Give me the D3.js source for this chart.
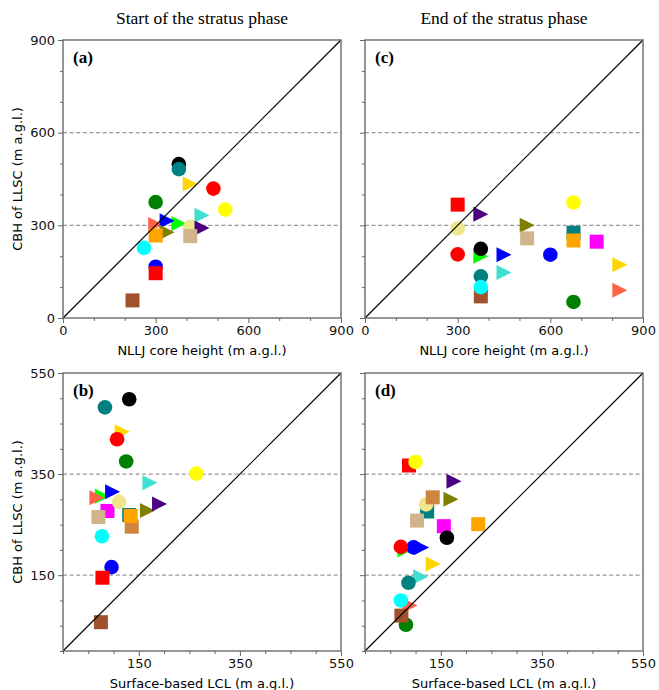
<!DOCTYPE html>
<html><head><meta charset="utf-8">
<script src="https://cdn.jsdelivr.net/npm/d3@7"></script>
<style>body{margin:0;background:#fff}</style>
</head><body>
<svg id="chart" width="659" height="690"></svg>
<script>
// ---- data (drawing order) ----
const caseColors = ["magenta","teal","lime","gold","blue","green","black","turquoise","teal","tomato","sienna","blue","khaki","olive","indigo","tan","peru","orange","red","yellow","red","cyan"];
const caseShapes = ["square","square","triangle","triangle","circle","circle","circle","triangle","circle","triangle","square","triangle","circle","triangle","triangle","square","square","square","square","circle","circle","circle"];
const nlljStart = [null,null,375,412,300,300,375,450,375,300,225,337,412,337,450,412,null,300,300,525,487,262];
const cbhStart  = [277,269,306,434,166,375,498,333,482,303,57,315,295,278,291,265,246,267,145,351,419,227];
const lclStart  = [88,131,78,117,96,125,131,172,83,67,75,98,111,167,191,70,136,134,78,264,107,77];
const nlljEnd   = [750,675,375,825,600,675,375,450,375,825,375,450,300,525,375,525,null,675,300,675,300,375];
const cbhEnd    = [247,276,200,172,205,52,224,147,135,90,70,205,290,300,336,258,304,251,367,374,206,100];
const lclEnd    = [156,123,79,135,96,81,162,110,86,89,72,112,121,170,176,103,134,224,87,100,71,71];

const topTicks = [0,300,600,900];
const bottomTicks = [150,350,550];
const topDashed = [300,600];
const bottomDashed = [150,350];
const titles = ["Start of the stratus phase","End of the stratus phase"];

const svg = d3.select("#chart");
const W = 278, H = 278;

const triRight = {draw(ctx, size){ const h = Math.sqrt(size)/2; ctx.moveTo(h,0); ctx.lineTo(-h,-h); ctx.lineTo(-h,h); ctx.closePath(); }};
const symbolFor = s => s==="circle" ? d3.symbol(d3.symbolCircle, Math.PI*7.3*7.3)
                    : s==="square" ? d3.symbol(d3.symbolSquare, 14*14)
                    : d3.symbol(triRight, 15*15);

const panels = [
  {id:"a", x:63,  y:40,  max:900, major:topTicks, minorStep:100, dashed:topDashed, xs:nlljStart, ys:cbhStart, yLab:true, xTitle:"NLLJ core height (m a.g.l.)"},
  {id:"c", x:365, y:40,  max:900, major:topTicks, minorStep:100, dashed:topDashed, xs:nlljEnd,   ys:cbhEnd,   yLab:false, xTitle:"NLLJ core height (m a.g.l.)"},
  {id:"b", x:63,  y:373, max:550, major:bottomTicks, minorStep:50, dashed:bottomDashed, xs:lclStart, ys:cbhStart, yLab:true, xTitle:"Surface-based LCL (m a.g.l.)"},
  {id:"d", x:365, y:373, max:550, major:bottomTicks, minorStep:50, dashed:bottomDashed, xs:lclEnd,   ys:cbhEnd,   yLab:false, xTitle:"Surface-based LCL (m a.g.l.)"}
];

const defs = svg.append("defs");
panels.forEach(p => {
  defs.append("clipPath").attr("id","clip"+p.id).append("rect").attr("width",W).attr("height",H);
  const g = svg.append("g").attr("transform",`translate(${p.x},${p.y})`);
  const xs = d3.scaleLinear().domain([0,p.max]).range([0,W]);
  const ys = d3.scaleLinear().domain([0,p.max]).range([H,0]);
  const minor = d3.range(0,p.max+0.1,p.minorStep).filter(v=>!p.major.includes(v));

  g.selectAll(".dash").data(p.dashed).join("line")
    .attr("x1",0).attr("x2",W).attr("y1",d=>ys(d)).attr("y2",d=>ys(d))
    .attr("stroke","#999").attr("stroke-width",1.2).attr("stroke-dasharray","4,2.6");

  const pts = p.xs.map((v,i)=>({x:v,y:p.ys[i],c:caseColors[i],s:caseShapes[i]})).filter(d=>d.x!=null&&d.y!=null);
  g.append("g").attr("clip-path",`url(#clip${p.id})`).selectAll("path").data(pts).join("path")
    .attr("transform",d=>`translate(${xs(d.x)},${ys(d.y)})`)
    .attr("d",d=>symbolFor(d.s)())
    .attr("fill",d=>d.c);

  g.append("line").attr("x1",xs(0)).attr("y1",ys(0)).attr("x2",xs(p.max)).attr("y2",ys(p.max))
    .attr("stroke","#000").attr("stroke-width",1.2);

  const ax = d3.axisBottom(xs).tickValues(p.major).tickSize(5).tickPadding(3);
  const axm = d3.axisBottom(xs).tickValues(minor).tickSize(3).tickFormat("");
  const ay = d3.axisLeft(ys).tickValues(p.major).tickSize(5).tickPadding(3);
  const aym = d3.axisLeft(ys).tickValues(minor).tickSize(3).tickFormat("");
  if(!p.yLab) ay.tickFormat("");
  [g.append("g").attr("transform",`translate(0,${H})`).call(ax),
   g.append("g").attr("transform",`translate(0,${H})`).call(axm),
   g.append("g").call(ay), g.append("g").call(aym)].forEach(a=>{
     a.select(".domain").remove();
     a.selectAll("line").attr("stroke","#666").attr("stroke-width",1);
     a.selectAll("text").attr("font-family","DejaVu Sans").attr("font-size",13).attr("fill","#111");
  });

  g.append("rect").attr("width",W).attr("height",H).attr("fill","none").attr("stroke","#6a6a6a").attr("stroke-width",1.4);

  g.append("text").attr("x",10).attr("y",23).text(`(${p.id})`)
    .attr("font-family","Liberation Serif").attr("font-weight","bold").attr("font-size",17);

  g.append("text").attr("x",W/2).attr("y",H+37).attr("text-anchor","middle")
    .attr("font-family","DejaVu Sans").attr("font-size",13).text(p.xTitle);
  if(p.yLab){
    g.append("text").attr("transform",`translate(${-41},${H/2}) rotate(-90)`).attr("text-anchor","middle")
      .attr("font-family","DejaVu Sans").attr("font-size",13).text("CBH of LLSC (m a.g.l.)");
  }
});

svg.selectAll(".title").data(titles).join("text")
  .attr("x",(d,i)=>i===0?202:504).attr("y",24).attr("text-anchor","middle")
  .attr("font-family","Liberation Serif").attr("font-size",17.5).text(d=>d);
</script>
</body></html>
